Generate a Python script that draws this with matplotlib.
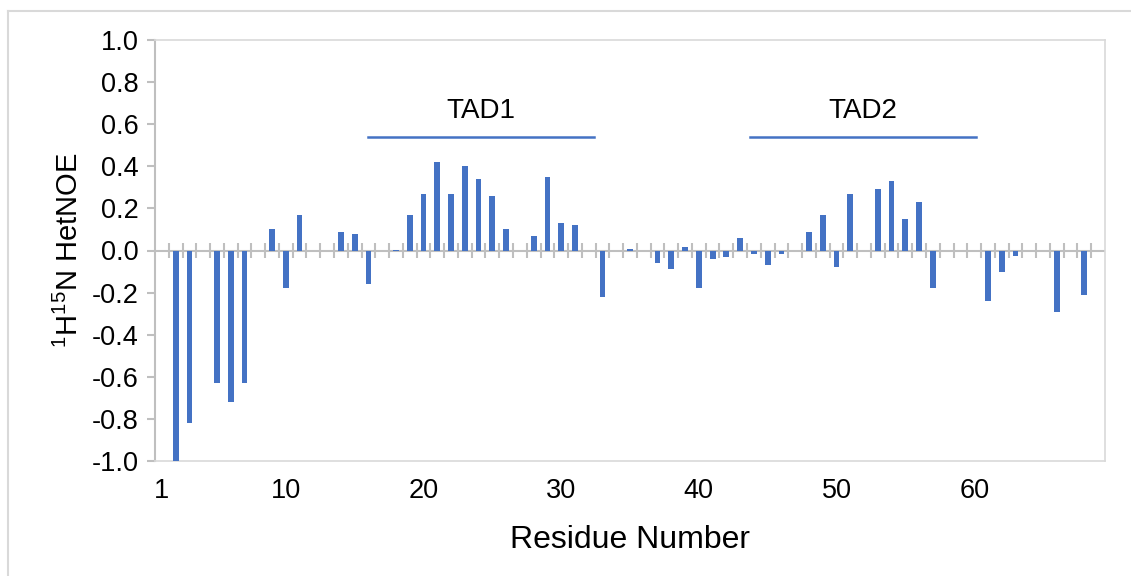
import numpy as np
import matplotlib.pyplot as plt
from matplotlib.lines import Line2D

plt.rcParams['font.family'] = ['Liberation Sans', 'DejaVu Sans']
plt.rcParams['mathtext.fontset'] = 'custom'
plt.rcParams['mathtext.rm'] = 'Liberation Sans'

# heteronuclear NOE per residue (nan = no data)
residues = np.arange(1, 70)
hetnoe = [
    np.nan, -1.0, -0.82, np.nan, -0.63, -0.72, -0.63, np.nan, 0.10, -0.18,
    0.17, np.nan, np.nan, 0.09, 0.08, -0.16, np.nan, 0.003, 0.17, 0.27,
    0.42, 0.27, 0.40, 0.34, 0.26, 0.10, np.nan, 0.07, 0.35, 0.13,
    0.12, np.nan, -0.22, np.nan, 0.006, np.nan, -0.06, -0.09, 0.015, -0.18,
    -0.04, -0.03, 0.06, -0.015, -0.07, -0.015, np.nan, 0.09, 0.17, -0.08,
    0.27, np.nan, 0.29, 0.33, 0.15, 0.23, -0.18, np.nan, -0.003, np.nan,
    -0.24, -0.10, -0.025, np.nan, np.nan, -0.29, np.nan, -0.21, np.nan,
]
xtick_labels = [1, 10, 20, 30, 40, 50, 60]
yticks = np.round(np.arange(-1.0, 1.01, 0.2), 1)

# transactivation domains: name, start, end (residue axis)
tad_names = ['TAD1', 'TAD2']
tad_start = [16.0, 43.7]
tad_end = [32.4, 60.1]
tad_level = 0.54

blue = '#4472C4'
grey = '#BFBFBF'
light = '#D9D9D9'

fig = plt.figure(figsize=(11.31, 5.76), dpi=100)
ax = fig.add_axes([155 / 1131, 1 - 461 / 576, (1105 - 155) / 1131, (461 - 40) / 576])

ax.bar(residues, hetnoe, width=0.42, color=blue, zorder=3)

ax.set_xlim(0.5, 69.5)
ax.set_ylim(-1.0, 1.0)

# zero line with category tick marks
ax.axhline(0, color=grey, lw=1.5, zorder=2)
ax.vlines(np.arange(1.5, 69.5, 1.0), -0.038, 0.038, color=grey, lw=1.5, zorder=2)

ax.set_yticks(yticks)
ax.set_yticklabels([f'{abs(v):.1f}' if v == 0 else f'{v:.1f}' for v in yticks],
                   fontsize=19.5)
ax.tick_params(axis='y', direction='out', length=6, width=1.5, color=grey, pad=6)
ax.set_xticks(xtick_labels)
ax.set_xticklabels([str(v) for v in xtick_labels], fontsize=19.5)
ax.tick_params(axis='x', length=0, pad=12)

for side in ['top', 'right', 'bottom']:
    ax.spines[side].set_color(light)
    ax.spines[side].set_linewidth(1.2)
ax.spines['left'].set_color(grey)
ax.spines['left'].set_linewidth(1.5)

ax.set_xlabel('Residue Number', fontsize=23, labelpad=15)
ax.set_ylabel(r'$^{1}$H$^{15}$N HetNOE', fontsize=21, labelpad=5)

for name, x0, x1 in zip(tad_names, tad_start, tad_end):
    ax.plot([x0, x1], [tad_level, tad_level], color=blue, lw=1.8, zorder=3)
    ax.text((x0 + x1) / 2, tad_level + 0.06, name, fontsize=20,
            ha='center', va='bottom')

# outer chart frame (left and top edges)
fig.add_artist(Line2D([8 / 1131, 8 / 1131], [0, 1 - 11 / 576],
                      transform=fig.transFigure, color=light, lw=1.5))
fig.add_artist(Line2D([8 / 1131, 1], [1 - 11 / 576, 1 - 11 / 576],
                      transform=fig.transFigure, color=light, lw=1.5))

fig.savefig('out.png', dpi=100)
